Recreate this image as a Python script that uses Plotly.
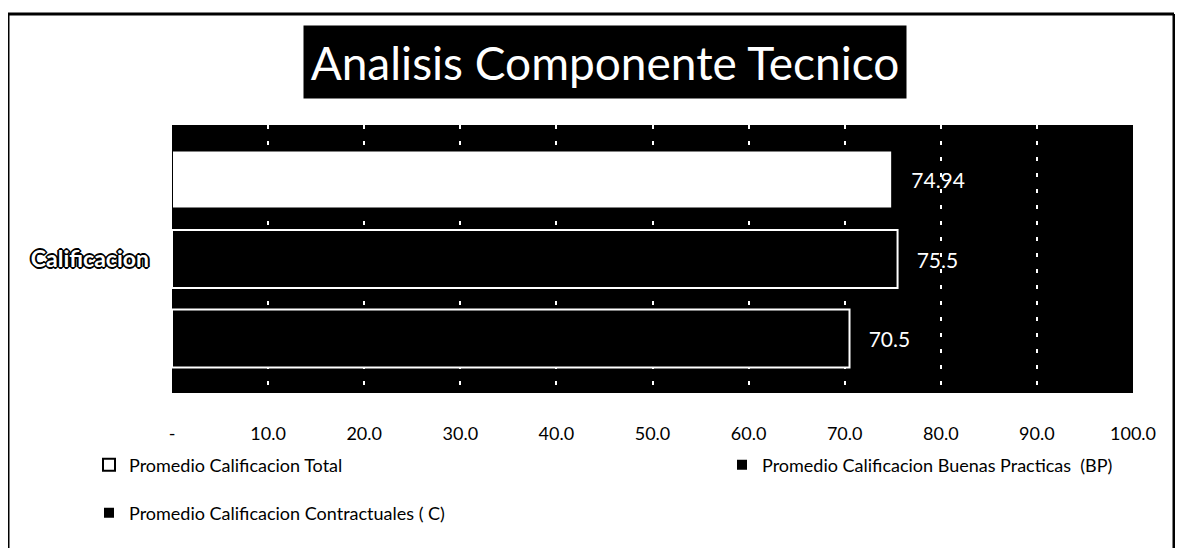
import plotly.graph_objects as go

categories = ["Calificacion"]
series_names = [
    "Promedio Calificacion Total",
    "Promedio Calificacion Buenas Practicas  (BP)",
    "Promedio Calificacion Contractuales ( C)",
]
total_vals = [74.94]
bp_vals = [75.5]
c_vals = [70.5]
tick_vals = [0, 10, 20, 30, 40, 50, 60, 70, 80, 90, 100]
tick_text = ["-", "10.0", "20.0", "30.0", "40.0", "50.0", "60.0", "70.0", "80.0", "90.0", "100.0"]
title_text = "Analisis Componente Tecnico"

# page has an 8px body margin; work in page pixels and convert
OFF = 8
W, H = 1183 - 2 * OFF, 556 - 2 * OFF
PL, PR, PT, PB = 172, 1133, 125, 393          # plot area in page pixels
L, T = PL - OFF, PT - OFF
R, B = W - (PR - OFF), H - (PB - OFF)
PW, PH = PR - PL, PB - PT

def px_x(px):
    return (px - PL) / PW

def px_y(py):
    return (PB - py) / PH

FONT = "Lato"
NBSP = "\u00a0" * 3

fig = go.Figure()
styles = [
    (series_names[0], total_vals, "white", "black", "legend"),
    (series_names[1], bp_vals, "black", "white", "legend2"),
    (series_names[2], c_vals, "black", "white", "legend3"),
]
for name, vals, fill, line, lg in styles:
    fig.add_trace(go.Bar(
        name=name, y=categories, x=vals, orientation="h",
        marker=dict(color=fill, line=dict(color=line, width=2)),
        text=vals, texttemplate=NBSP + "%{x}", textposition="outside",
        textfont=dict(color="white", size=21, family=FONT),
        cliponaxis=False, legend=lg,
    ))

leg_font = dict(size=18, family=FONT, color="black")
def leg(xp, yp):
    return dict(orientation="h", x=px_x(xp), y=px_y(yp), xanchor="left", yanchor="middle",
                font=leg_font, bgcolor="rgba(0,0,0,0)")

fig.update_layout(
    width=W, height=H,
    margin=dict(l=L, r=R, t=T, b=B),
    paper_bgcolor="white", plot_bgcolor="black",
    barmode="group", bargap=0.11, bargroupgap=0.27,
    font=dict(family=FONT, size=18, color="black"),
    showlegend=True,
    legend=leg(89, 465),
    legend2=leg(722, 465),
    legend3=leg(89, 513),
    xaxis=dict(range=[0, 100], tickvals=tick_vals, ticktext=tick_text,
               showgrid=True, gridcolor="white", griddash="4px,12px", gridwidth=1.5,
               zeroline=False, showline=False, ticks="", ticklabelstandoff=28,
               tickfont=dict(size=18, family=FONT, color="black")),
    yaxis=dict(autorange="reversed", showgrid=False, zeroline=False, ticks="",
               ticklabelstandoff=22,
               tickfont=dict(size=23, family=FONT, color="white", weight="bold",
                             shadow="1px 1px 0 black, -1px -1px 0 black, 1px -1px 0 black, -1px 1px 0 black, 2px 0 0 black, -2px 0 0 black, 0 2px 0 black, 0 -2px 0 black")),
)

fig.add_annotation(
    text=title_text, xref="paper", yref="paper",
    x=px_x(605), y=px_y(62), xanchor="center", yanchor="middle",
    showarrow=False, bgcolor="black", width=600, height=70,
    font=dict(size=46, family=FONT, color="white"),
)

# outer chart border (left, top, right)
RB = 1183 - OFF - 1
for x0, y0, x1, y1 in [(8, 14, 8, 556), (8, 14, RB, 14), (RB, 14, RB, 556)]:
    fig.add_shape(type="line", xref="paper", yref="paper",
                  x0=px_x(x0), y0=px_y(y0), x1=px_x(x1), y1=px_y(y1),
                  line=dict(color="black", width=3))

fig.write_html("out.html")
